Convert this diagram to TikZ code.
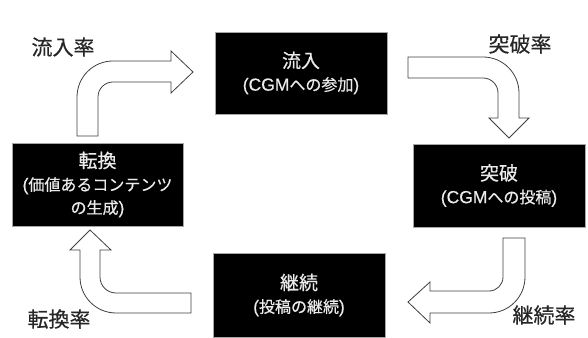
\documentclass[tikz,border=0pt]{standalone}
\usepackage{fontspec}
\setmainfont{Noto Sans CJK JP}[FakeBold=0.5]
\newfontfamily\latfont{Liberation Sans}[FakeBold=0.3]
\newcommand{\titlef}{\fontsize{19pt}{23pt}\selectfont}
\newcommand{\subf}{\fontsize{16pt}{23pt}\selectfont}
\newcommand{\latn}[1]{{\latfont\fontsize{17.5pt}{23pt}\selectfont #1}}
\newcommand{\ratefont}{\fontsize{21pt}{24pt}\selectfont}
\begin{document}
\begin{tikzpicture}[x=1pt,y=1pt,
  box/.style={fill=black, draw=gray!70, line width=0.6pt, text=white!92!black,
    align=center, inner sep=0pt, font=\fontsize{17pt}{23pt}\selectfont},
  barrow/.style={fill=white, draw=black!75, line width=0.8pt, line join=miter},
  rate/.style={font=\ratefont, text=black!85, inner sep=0pt}]
\useasboundingbox (0,0) rectangle (588,337);
% boxes
\node[box, minimum width=172pt, minimum height=82pt] (inflow) at (301,264)
  {\titlef 流入\\\subf\latn{(CGM}への参加\latn{)}};
\node[box, minimum width=171pt, minimum height=83pt] (convert) at (97.5,152.5)
  {\titlef 転換\\\subf\latn{(}価値あるコンテンツ\\\subf の生成\latn{)}};
\node[box, minimum width=172pt, minimum height=83pt] (breakthru) at (499,151.5)
  {\titlef 突破\\\subf\latn{(CGM}への投稿\latn{)}};
\node[box, minimum width=172pt, minimum height=84pt] (continue) at (299,42)
  {\titlef 継続\\\subf\latn{(}投稿の継続\latn{)}};
% block arrows
\draw[barrow] (77,201) -- (77,240) arc[start angle=180,end angle=90,radius=36]
  -- (171,276) -- (171,286) -- (193,265) -- (171,244) -- (171,255) -- (113,255)
  arc[start angle=90,end angle=180,radius=15] -- (98,201) -- cycle;
\draw[barrow] (408,280) -- (483,280) arc[start angle=90,end angle=0,radius=36]
  -- (519,219) -- (529,219) -- (509,199) -- (489,219) -- (498,219) -- (498,244)
  arc[start angle=0,end angle=90,radius=15] -- (408,259) -- cycle;
\draw[barrow] (503,99) -- (525,99) -- (525,60) arc[start angle=0,end angle=-90,radius=36]
  -- (430,24) -- (430,14) -- (408,35) -- (430,55) -- (430,46) -- (489,46)
  arc[start angle=-90,end angle=0,radius=14] -- cycle;
\draw[barrow] (191,44) -- (116,44) arc[start angle=-90,end angle=-180,radius=16]
  -- (100,87) -- (111,87) -- (90,107) -- (70,87) -- (80,87) -- (80,60)
  arc[start angle=180,end angle=270,radius=36] -- (191,24) -- cycle;
% rate labels
\node[rate] (r1) at (63,290) {流入率};
\node[rate] (r2) at (520,293) {突破率};
\node[rate] (r3) at (59,18) {転換率};
\node[rate] (r4) at (544,22) {継続率};
\end{tikzpicture}
\end{document}
